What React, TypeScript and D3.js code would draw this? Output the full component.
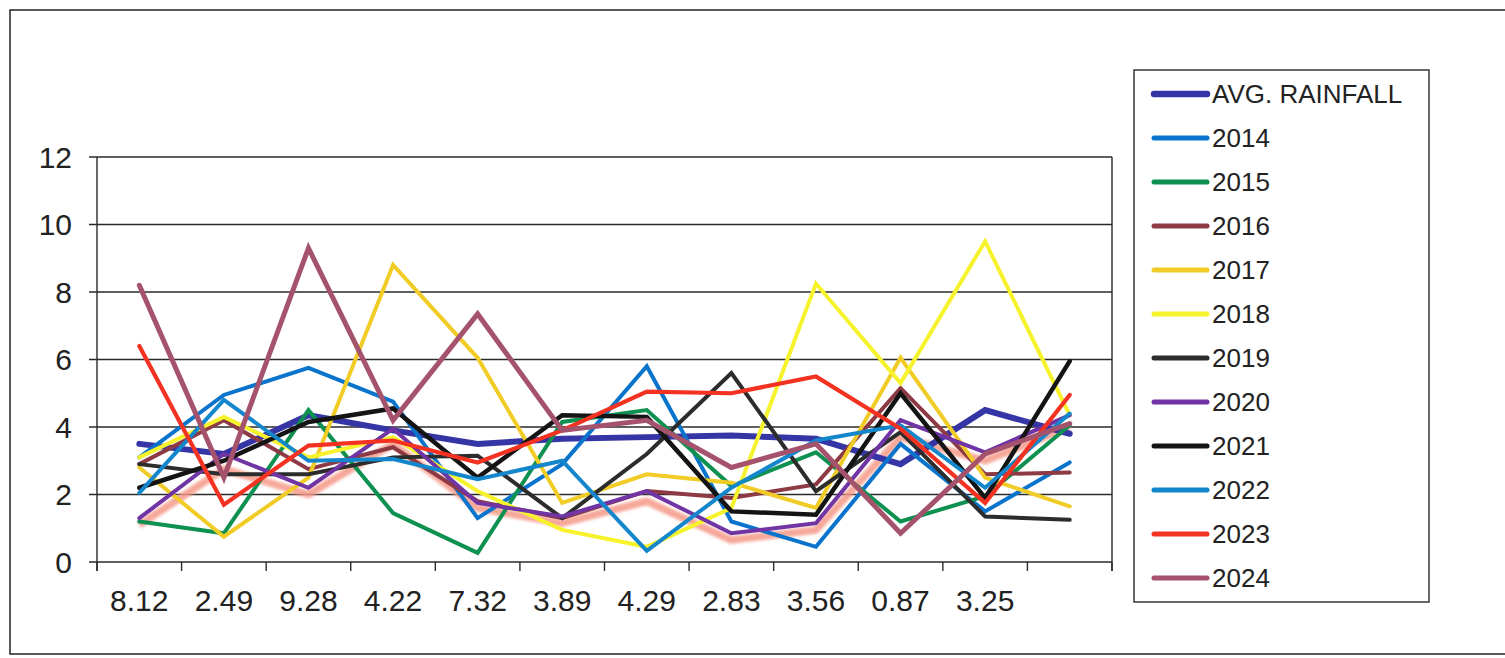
import React from "react";
import * as d3 from "d3";

// Category labels along the x axis (last slot carries no label)
const categories = ["8.12", "2.49", "9.28", "4.22", "7.32", "3.89", "4.29", "2.83", "3.56", "0.87", "3.25", ""];

// Rainfall series
const avgRainfall = [3.5, 3.2, 4.35, 3.9, 3.5, 3.65, 3.7, 3.75, 3.65, 2.9, 4.5, 3.8];
const r2014 = [3.1, 4.95, 5.75, 4.75, 1.3, 2.9, 5.8, 1.2, 0.45, 3.5, 1.5, 2.95];
const r2015 = [1.2, 0.85, 4.5, 1.45, 0.27, 4.15, 4.5, 2.25, 3.25, 1.2, 1.95, 4.05];
const r2016 = [2.9, 4.2, 2.75, 3.4, 1.8, 1.3, 2.1, 1.9, 2.3, 5.15, 2.6, 2.65];
const r2017 = [2.8, 0.75, 2.5, 8.8, 6.05, 1.75, 2.6, 2.35, 1.6, 6.05, 2.5, 1.65];
const r2018 = [3.1, 4.3, 3.1, 3.7, 2.1, 0.95, 0.45, 1.6, 8.25, 5.3, 9.5, 4.35];
const r2019 = [2.9, 2.6, 2.6, 3.1, 3.15, 1.3, 3.2, 5.6, 2.1, 3.85, 1.35, 1.25];
const r2020 = [1.3, 3.2, 2.2, 3.95, 1.75, 1.35, 2.1, 0.85, 1.15, 4.2, 3.25, 4.35];
const r2021 = [2.2, 3.0, 4.15, 4.55, 2.5, 4.35, 4.3, 1.5, 1.4, 5.0, 1.9, 5.95];
const r2022 = [2.05, 4.8, 3.0, 3.05, 2.45, 3.0, 0.33, 2.2, 3.6, 4.05, 2.2, 4.4];
const r2023 = [6.4, 1.7, 3.45, 3.6, 2.95, 3.9, 5.05, 5.0, 5.5, 3.95, 1.75, 4.95];
const r2024 = [8.2, 2.5, 9.3, 4.2, 7.35, 3.9, 4.2, 2.8, 3.5, 0.85, 3.2, 4.1];
// Unlabelled soft series drawn beneath the others
const unlabelled = [1.1, 2.75, 2.0, 3.5, 1.6, 1.15, 1.8, 0.65, 0.95, 3.7, 3.0, 4.0];

const yTicks = [0, 2, 4, 6, 8, 10, 12];

type Series = { name: string; values: number[]; color: string; width: number };

const series: Series[] = [
  { name: "AVG. RAINFALL", values: avgRainfall, color: "#3535A5", width: 6 },
  { name: "2014", values: r2014, color: "#0A74CC", width: 4 },
  { name: "2015", values: r2015, color: "#0E9150", width: 4 },
  { name: "2016", values: r2016, color: "#8E3A44", width: 4 },
  { name: "2017", values: r2017, color: "#F2CC26", width: 4 },
  { name: "2018", values: r2018, color: "#F6F22C", width: 4 },
  { name: "2019", values: r2019, color: "#2C2C2C", width: 4 },
  { name: "2020", values: r2020, color: "#7034A4", width: 4 },
  { name: "2021", values: r2021, color: "#141414", width: 4.5 },
  { name: "2022", values: r2022, color: "#1486CC", width: 4 },
  { name: "2023", values: r2023, color: "#F43222", width: 4.2 },
  { name: "2024", values: r2024, color: "#A5536C", width: 5 },
];

export default function App() {
  const W = 1505;
  const H = 658;
  const plot = { left: 97, right: 1112, top: 157, bottom: 562 };

  const x = d3
    .scaleBand<string>()
    .domain(categories.map((_, i) => String(i)))
    .range([plot.left, plot.right])
    .paddingInner(0)
    .paddingOuter(0);
  const cx = (i: number) => (x(String(i)) as number) + x.bandwidth() / 2;
  const y = d3.scaleLinear().domain([0, 12]).range([plot.bottom, plot.top]);

  const line = d3
    .line<number>()
    .x((_, i) => cx(i))
    .y((d) => y(d))
    .curve(d3.curveLinear);

  const font = "'Liberation Sans', Arial, sans-serif";
  const boundaries = d3.range(categories.length + 1).map((i) => plot.left + i * x.step());

  const legend = { x: 1134, y: 70, w: 295, h: 532, row0: 94, rowStep: 44 };

  return (
    <div style={{ position: "fixed", left: 0, top: 0 }}>
      <svg width={W} height={H} style={{ display: "block", background: "#fff" }}>
        <defs>
          <filter id="soft" x="-5%" y="-20%" width="110%" height="140%">
            <feGaussianBlur stdDeviation="1.6" />
          </filter>
        </defs>

        {/* outer frame */}
        <rect x={10} y={10} width={1520} height={644} fill="none" stroke="#222" strokeWidth={1.5} />

        {/* gridlines */}
        {yTicks.map((t) => (
          <line
            key={"g" + t}
            x1={plot.left - 8}
            x2={plot.right}
            y1={y(t)}
            y2={y(t)}
            stroke="#2a2a2a"
            strokeWidth={1.4}
          />
        ))}
        {/* plot frame */}
        <line x1={plot.left} x2={plot.left} y1={plot.top} y2={plot.bottom + 9} stroke="#2a2a2a" strokeWidth={1.4} />
        <line x1={plot.right} x2={plot.right} y1={plot.top} y2={plot.bottom + 9} stroke="#2a2a2a" strokeWidth={1.4} />

        {/* x tick marks at category boundaries */}
        {boundaries.map((bx, i) => (
          <line key={"xt" + i} x1={bx} x2={bx} y1={plot.bottom} y2={plot.bottom + 9} stroke="#2a2a2a" strokeWidth={1.4} />
        ))}

        {/* y labels */}
        {yTicks.map((t) => (
          <text
            key={"yl" + t}
            x={72}
            y={y(t)}
            textAnchor="end"
            dominantBaseline="central"
            fontFamily={font}
            fontSize={30}
            fill="#222"
          >
            {t}
          </text>
        ))}

        {/* x labels */}
        {categories.map((c, i) => (
          <text
            key={"xl" + i}
            x={cx(i)}
            y={611}
            textAnchor="middle"
            fontFamily={font}
            fontSize={30}
            fill="#222"
          >
            {c}
          </text>
        ))}

        {/* series lines */}
        <path
          d={line(unlabelled) || ""}
          fill="none"
          stroke="#F59886"
          strokeWidth={7.5}
          strokeOpacity={0.85}
          strokeLinejoin="round"
          filter="url(#soft)"
        />
        {series.map((s) => (
          <path
            key={s.name}
            d={line(s.values) || ""}
            fill="none"
            stroke={s.color}
            strokeWidth={s.width}
            strokeLinejoin="miter"
            strokeLinecap="round"
          />
        ))}

        {/* legend */}
        <rect
          x={legend.x}
          y={legend.y}
          width={legend.w}
          height={legend.h}
          fill="#fff"
          stroke="#2a2a2a"
          strokeWidth={1.4}
        />
        {series.map((s, i) => {
          const ry = legend.row0 + i * legend.rowStep;
          return (
            <g key={"lg" + s.name}>
              <line
                x1={1154}
                x2={1207}
                y1={ry}
                y2={ry}
                stroke={s.color}
                strokeWidth={i === 0 ? 6.5 : 5}
                strokeLinecap="round"
              />
              <text
                x={1212}
                y={ry}
                dominantBaseline="central"
                fontFamily={font}
                fontSize={26}
                fill="#222"
              >
                {s.name}
              </text>
            </g>
          );
        })}
      </svg>
    </div>
  );
}
